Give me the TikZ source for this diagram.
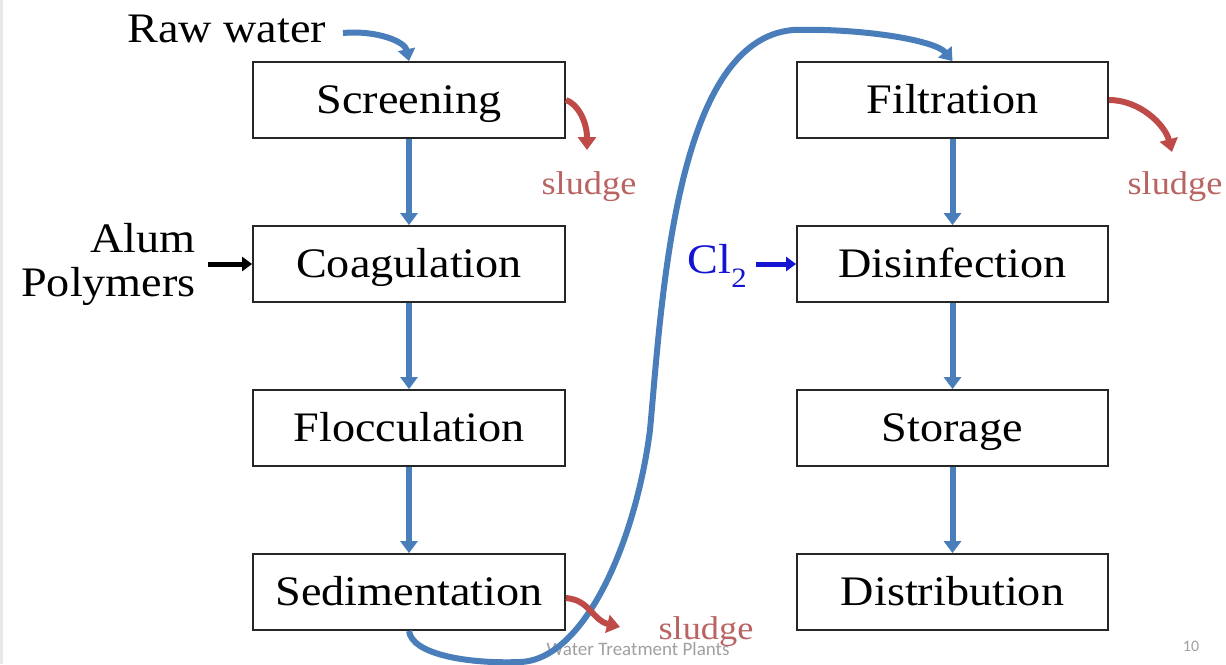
\documentclass[tikz,border=0pt]{standalone}
\usepackage{fontspec}
\setmainfont[FakeStretch=1.1]{Liberation Serif}
\newfontfamily\footfont{Carlito}
\usetikzlibrary{arrows.meta}
\definecolor{flowblue}{RGB}{74,126,187}
\definecolor{sludgered}{RGB}{190,75,72}
\definecolor{sludgetext}{RGB}{185,100,98}
\definecolor{clblue}{RGB}{20,20,210}
\definecolor{footgray}{RGB}{160,160,160}
\begin{document}
\begin{tikzpicture}[x=1pt,y=-1pt,
  stage/.style={draw=black!85, line width=1.8pt, minimum width=312pt, minimum height=76pt, inner sep=0pt, text height=32pt, text depth=6pt, font=\fontsize{42}{50}\selectfont},
  flow/.style={draw=flowblue, line width=6pt, -{Triangle[width=17pt,length=12pt]}},
  waste/.style={draw=sludgered, line width=6pt, -{Triangle[width=18pt,length=13pt]}},
  lbl/.style={font=\fontsize{42}{44}\selectfont, inner sep=0pt},
  sl/.style={text=sludgetext, font=\fontsize{33}{36}\selectfont, inner sep=0pt},
  foot/.style={text=footgray, font=\footfont\fontsize{19}{22}\selectfont, inner sep=0pt}
]
\useasboundingbox[fill=white] (0,0) rectangle (1226,664);
\fill[black!9] (0,0) rectangle (3,664);

% stages
\node[stage] (scr) at (409,100) {Screening};
\node[stage] (coa) at (409,264) {Coagulation};
\node[stage] (flo) at (409,428) {Flocculation};
\node[stage] (sed) at (409,592) {Sedimentation};
\node[stage, minimum width=311pt] (fil) at (952.5,100) {Filtration};
\node[stage, minimum width=311pt] (dis) at (952.5,264) {Disinfection};
\node[stage, minimum width=311pt] (sto) at (952.5,428) {Storage};
\node[stage, minimum width=311pt] (dst) at (952.5,592) {Distribution};

% labels
\node[lbl, anchor=base west] (raw) at (127,42) {Raw water};
\node[lbl, anchor=east, align=right] (alum) at (196,264) {Alum\\Polymers};
\node[lbl, text=clblue, anchor=east] (cl) at (747,266) {Cl\raisebox{-0.34em}{\fontsize{28}{28}\selectfont 2}};

% footer
\node[foot] (footer) at (638,649) {Water Treatment Plants};
\node[foot, font=\footfont\fontsize{16}{18}\selectfont] (pg) at (1191,646) {10};

% sludge labels
\node[sl] (s1) at (589,187) {sludge};
\node[sl] (s2) at (1175,187) {sludge};
\node[sl] (s3) at (706,632) {sludge};

% coordinates for flow curves
\coordinate (rawend) at (343,33);
\coordinate (c1) at (520,662);
\coordinate (c2) at (650,430);
\coordinate (c3) at (793,30);
\coordinate (alumend) at (208,264);
\coordinate (clend) at (756,264);

% main flow arrows
\draw[flow] (rawend) .. controls (378,30) and (405,42) .. (scr.north);
\draw[flow] (scr) -- (coa);
\draw[flow] (coa) -- (flo);
\draw[flow] (flo) -- (sed);
\draw[flow] (sed.south) .. controls (412,655) and (470,664) .. (c1)
  .. controls (585,660) and (636,540) .. (c2)
  .. controls (662,300) and (675,40) .. (c3)
  .. controls (860,28) and (935,40) .. (fil.north);
\draw[flow] (fil) -- (dis);
\draw[flow] (dis) -- (sto);
\draw[flow] (sto) -- (dst);

% chemicals
\draw[black, line width=5pt, -{Triangle[width=14pt,length=10pt]}] (alumend) -- (coa.west);
\draw[clblue, line width=5pt, -{Triangle[width=14pt,length=10pt]}] (clend) -- (dis.west);

% sludge arrows
\coordinate (t1) at (587,150);
\coordinate (t2) at (1172,152);
\coordinate (t3) at (620,627);
\draw[waste] (scr.east |- 0,100) .. controls (578,104) and (587,122) .. (t1);
\draw[waste] (fil.east |- 0,100) .. controls (1140,100) and (1165,125) .. (t2);
\draw[waste] (sed.east |- 0,598) .. controls (590,600) and (592,620) .. (t3);
\end{tikzpicture}
\end{document}
